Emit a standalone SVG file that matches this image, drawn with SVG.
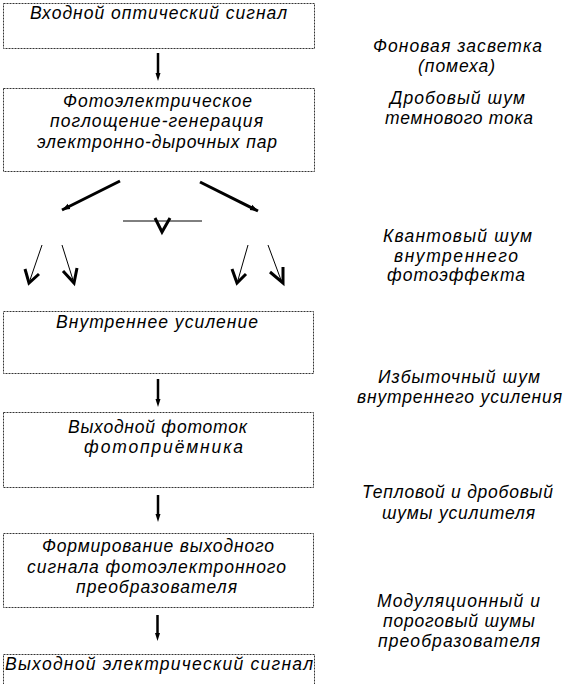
<svg xmlns="http://www.w3.org/2000/svg" width="587" height="684" viewBox="0 0 587 684">
<style>
.box{fill:#fff;stroke:#333;stroke-width:1;stroke-dasharray:2 1}
.t{font-family:"Liberation Sans",Arial,sans-serif;font-style:italic;font-size:17.5px;fill:#000;text-anchor:middle}
.thick{stroke:#000;stroke-width:3;fill:none}
.vs{stroke:#000;stroke-width:2.5;fill:none}
.thin{stroke:#000;stroke-width:1;fill:none}
.vhead{stroke:#000;stroke-width:3;fill:none;stroke-linejoin:miter}
</style>
<defs>
<marker id="ah" markerUnits="userSpaceOnUse" markerWidth="10" markerHeight="10" viewBox="0 0 10 10" refX="8" refY="5" orient="auto">
<path d="M0,2 L8,5 L0,8 Z" fill="#000"/>
</marker>
</defs>
<g id="n1"><rect class="box" x="3.5" y="3.5" width="311" height="45"/><text class="t" x="158.5" y="19" textLength="257" lengthAdjust="spacing">Входной оптический сигнал</text></g>
<g id="n2"><rect class="box" x="3.5" y="88.5" width="311" height="83"/><text class="t" x="157.5" y="107" textLength="189" lengthAdjust="spacing">Фотоэлектрическое</text><text class="t" x="156.5" y="127" textLength="213" lengthAdjust="spacing">поглощение-генерация</text><text class="t" x="157" y="148" textLength="240" lengthAdjust="spacing">электронно-дырочных пар</text></g>
<g id="n3"><rect class="box" x="3.5" y="311.5" width="310" height="62"/><text class="t" x="157" y="328" textLength="202" lengthAdjust="spacing">Внутреннее усиление</text></g>
<g id="n4"><rect class="box" x="3.5" y="412.5" width="310" height="75"/><text class="t" x="157.5" y="433" textLength="179" lengthAdjust="spacing">Выходной фототок</text><text class="t" x="163.5" y="453" textLength="159" lengthAdjust="spacing">фотоприёмника</text></g>
<g id="n5"><rect class="box" x="3.5" y="533.5" width="310" height="74"/><text class="t" x="158" y="552" textLength="232" lengthAdjust="spacing">Формирование выходного</text><text class="t" x="156.5" y="573" textLength="259" lengthAdjust="spacing">сигнала фотоэлектронного</text><text class="t" x="156.5" y="593" textLength="161" lengthAdjust="spacing">преобразователя</text></g>
<g id="n6"><rect class="box" x="3.5" y="654.5" width="311" height="40"/><text class="t" x="159" y="670" textLength="308" lengthAdjust="spacing">Выходной электрический сигнал</text></g>
<g id="notes">
<text class="t" x="457.5" y="52" textLength="169" lengthAdjust="spacing">Фоновая засветка</text>
<text class="t" x="456.5" y="72" textLength="77" lengthAdjust="spacing">(помеха)</text>
<text class="t" x="457.5" y="104" textLength="135" lengthAdjust="spacing">Дробовый шум</text>
<text class="t" x="459" y="124" textLength="148" lengthAdjust="spacing">темнового тока</text>
<text class="t" x="457.5" y="242" textLength="149" lengthAdjust="spacing">Квантовый шум</text>
<text class="t" x="456" y="262" textLength="124" lengthAdjust="spacing">внутреннего</text>
<text class="t" x="456" y="281" textLength="138" lengthAdjust="spacing">фотоэффекта</text>
<text class="t" x="459" y="383" textLength="162" lengthAdjust="spacing">Избыточный шум</text>
<text class="t" x="459.5" y="403" textLength="205" lengthAdjust="spacing">внутреннего усиления</text>
<text class="t" x="457.5" y="498" textLength="191" lengthAdjust="spacing">Тепловой и дробовый</text>
<text class="t" x="458.5" y="519" textLength="153" lengthAdjust="spacing">шумы усилителя</text>
<text class="t" x="458.5" y="607" textLength="163" lengthAdjust="spacing">Модуляционный и</text>
<text class="t" x="459" y="627" textLength="152" lengthAdjust="spacing">пороговый шумы</text>
<text class="t" x="459" y="647" textLength="162" lengthAdjust="spacing">преобразователя</text>
</g>
<g id="connectors">
<path class="vs" d="M158,53 V74"/><path d="M155.5,73 L158,81 L160.5,73 Z"/>
<path class="vs" d="M158,379 V400"/><path d="M155.5,399 L158,407 L160.5,399 Z"/>
<path class="vs" d="M158,495 V515"/><path d="M155.5,514 L158,522 L160.5,514 Z"/>
<path class="vs" d="M157.5,615 V634"/><path d="M155,633 L157.5,641 L160,633 Z"/>
<path class="thick" d="M120,181 L62,210" marker-end="url(#ah)"/>
<path class="thick" d="M200,182 L258,211" marker-end="url(#ah)"/>
<path class="thin" d="M123,221 H202"/>
<path class="vhead" d="M155,218 L162,232 L170,218"/>
<path class="thin" d="M42,245 L30,280"/>
<path class="vhead" d="M25,269 L29,283 L39,274"/>
<path class="thin" d="M62,245 L73,280"/>
<path class="vhead" d="M63,271 L74,283 L77,268"/>
<path class="thin" d="M248,245 L238,280"/>
<path class="vhead" d="M232,269 L237,283 L246,274"/>
<path class="thin" d="M268,245 L281,280"/>
<path class="vhead" d="M270,272 L283,283 L283,267"/>
</g>
</svg>
